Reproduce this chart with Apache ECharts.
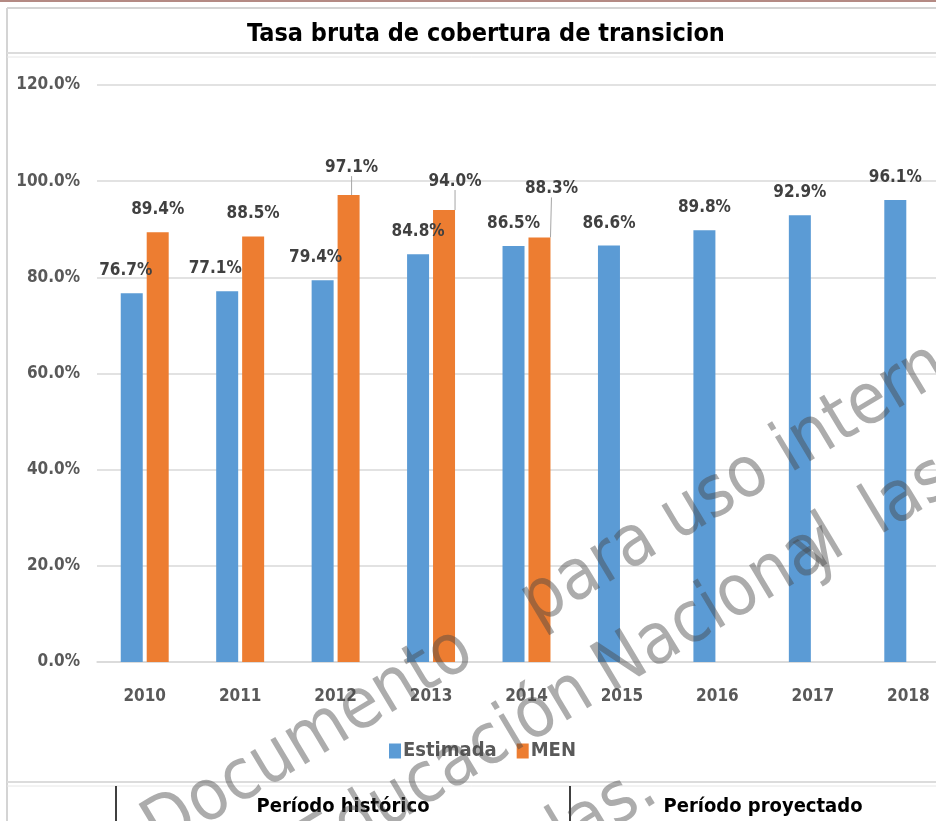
<!DOCTYPE html>
<html>
<head>
<meta charset="utf-8">
<script src="https://cdn.jsdelivr.net/npm/echarts@6/dist/echarts.min.js"></script>
<style>
  html, body { margin: 0; padding: 0; background: #fff; }
  #chart { width: 936px; height: 821px; }
</style>
</head>
<body>
<div id="chart"></div>
<script>
// datos
const years = ['2010', '2011', '2012', '2013', '2014', '2015', '2016', '2017', '2018'];
const estimada = [76.7, 77.1, 79.4, 84.8, 86.5, 86.6, 89.8, 92.9, 96.1];
const men = [89.4, 88.5, 97.1, 94.0, 88.3, null, null, null, null];
const periodos = ['Período histórico', 'Período proyectado'];
const marcaAgua = ['Documento', 'para', 'uso', 'interno', 'Educación', 'Nacional', 'y', 'las', 'las.'];

const FONT = "'Liberation Sans Narrow', 'DejaVu Sans Condensed', 'Noto Sans', sans-serif";
const BLUE = '#5B9BD5';
const ORANGE = '#ED7D31';
const WM = 'rgba(70,70,70,0.45)';
const ROT = 0.54;
const WM_SIZE = 71;
// punto de la línea base de cada palabra de la marca de agua [x, y, alineación]
const wmPos = [
  [163, 857, 'left'], [540, 631, 'left'], [680, 547, 'left'], [793, 479, 'left'],
  [600, 708, 'right'], [614, 699, 'left'], [814, 582, 'left'], [882, 541, 'left'],
  [664, 805, 'right']
];

// desplazamiento de etiquetas que Excel movió
const estLabelShift = { 0: [-6, 0], 1: [-12, 0], 2: [-7, 0] };
const menLabelShift = { 2: [3, -5], 3: [11, -6], 4: [12, -26] };

const menData = men.map((v, i) => menLabelShift[i] ? { value: v, labelLine: { show: true } } : v);

const wmOff = WM_SIZE * 0.35;
const watermark = marcaAgua.map((w, i) => ({
  type: 'text',
  x: wmPos[i][0] - Math.sin(ROT) * wmOff,
  y: wmPos[i][1] - Math.cos(ROT) * wmOff,
  rotation: ROT,
  z: 100,
  silent: true,
  style: { text: w, font: WM_SIZE + 'px ' + FONT, fill: WM, textAlign: wmPos[i][2], textVerticalAlign: 'middle' }
}));

const chart = echarts.init(document.getElementById('chart'));

const option = {
  backgroundColor: '#fff',
  animation: false,
  title: {
    text: 'Tasa bruta de cobertura de transicion',
    left: 481,
    top: 17,
    textAlign: 'center',
    textStyle: { fontFamily: FONT, fontWeight: 'bold', fontSize: 25, color: '#000' }
  },
  grid: { left: 97, top: 85, width: 859, height: 577, outerBoundsMode: 'none' },
  legend: {
    data: ['Estimada', 'MEN'],
    left: 384,
    top: 736,
    icon: 'rect',
    itemWidth: 12,
    itemHeight: 15,
    itemGap: 20,
    textStyle: { fontFamily: FONT, fontWeight: 'bold', fontSize: 20, color: '#595959', padding: [0, 0, 0, -3] }
  },
  xAxis: {
    type: 'category',
    data: years,
    axisTick: { show: false },
    axisLine: { lineStyle: { color: '#d9d9d9', width: 1.5 } },
    axisLabel: { margin: 26, fontFamily: FONT, fontWeight: 'bold', fontSize: 17, color: '#595959' }
  },
  yAxis: {
    type: 'value',
    min: 0,
    max: 120,
    interval: 20,
    axisLine: { show: false },
    axisTick: { show: false },
    splitLine: { lineStyle: { color: '#d9d9d9', width: 1.5 } },
    axisLabel: {
      margin: 17,
      fontFamily: FONT, fontWeight: 'bold', fontSize: 17, color: '#595959',
      formatter: v => v.toFixed(1) + '%'
    }
  },
  series: [
    {
      name: 'Estimada',
      type: 'bar',
      data: estimada,
      barWidth: 22,
      barGap: '18%',
      itemStyle: { color: BLUE },
      label: {
        show: true,
        position: 'top',
        distance: 14,
        fontFamily: FONT, fontWeight: 'bold', fontSize: 17, color: '#404040',
        formatter: p => p.value.toFixed(1) + '%'
      },
      labelLayout: function (params) {
        const s = estLabelShift[params.dataIndex];
        if (!s) return {};
        return { dx: s[0], dy: s[1] };
      }
    },
    {
      name: 'MEN',
      type: 'bar',
      data: menData,
      barWidth: 22,
      itemStyle: { color: ORANGE },
      label: {
        show: true,
        position: 'top',
        distance: 14,
        fontFamily: FONT, fontWeight: 'bold', fontSize: 17, color: '#404040',
        formatter: p => p.value == null ? '' : p.value.toFixed(1) + '%'
      },
      labelLine: { show: false, lineStyle: { color: '#a6a6a6', width: 1 } },
      labelLayout: function (params) {
        const s = menLabelShift[params.dataIndex];
        if (!s) return {};
        return { dx: s[0], dy: s[1] };
      }
    }
  ],
  graphic: [
    // bordes de la hoja
    { type: 'rect', shape: { x: 0, y: 0, width: 936, height: 2 }, style: { fill: '#b48a84' }, silent: true },
    { type: 'line', shape: { x1: 7, y1: 8, x2: 936, y2: 8 }, style: { stroke: '#d4d4d4', lineWidth: 2 }, silent: true },
    { type: 'line', shape: { x1: 7, y1: 8, x2: 7, y2: 821 }, style: { stroke: '#d4d4d4', lineWidth: 2 }, silent: true },
    { type: 'line', shape: { x1: 7, y1: 53, x2: 936, y2: 53 }, style: { stroke: '#dcdcdc', lineWidth: 2 }, silent: true },
    { type: 'line', shape: { x1: 7, y1: 57, x2: 936, y2: 57 }, style: { stroke: '#e6e6e6', lineWidth: 1 }, silent: true },
    { type: 'line', shape: { x1: 7, y1: 782, x2: 936, y2: 782 }, style: { stroke: '#dcdcdc', lineWidth: 2 }, silent: true },
    { type: 'line', shape: { x1: 7, y1: 786, x2: 936, y2: 786 }, style: { stroke: '#e6e6e6', lineWidth: 1 }, silent: true },
    { type: 'line', shape: { x1: 116, y1: 786, x2: 116, y2: 821 }, style: { stroke: '#000', lineWidth: 1.5 }, silent: true },
    { type: 'line', shape: { x1: 570, y1: 786, x2: 570, y2: 821 }, style: { stroke: '#000', lineWidth: 1.5 }, silent: true },
    {
      type: 'text', x: 343, y: 807,
      style: { text: periodos[0], font: 'bold 20px ' + FONT, fill: '#000', textAlign: 'center', textVerticalAlign: 'middle' }
    },
    {
      type: 'text', x: 763, y: 807,
      style: { text: periodos[1], font: 'bold 20px ' + FONT, fill: '#000', textAlign: 'center', textVerticalAlign: 'middle' }
    }
  ].concat(watermark)
};

chart.setOption(option);
</script>
</body>
</html>
